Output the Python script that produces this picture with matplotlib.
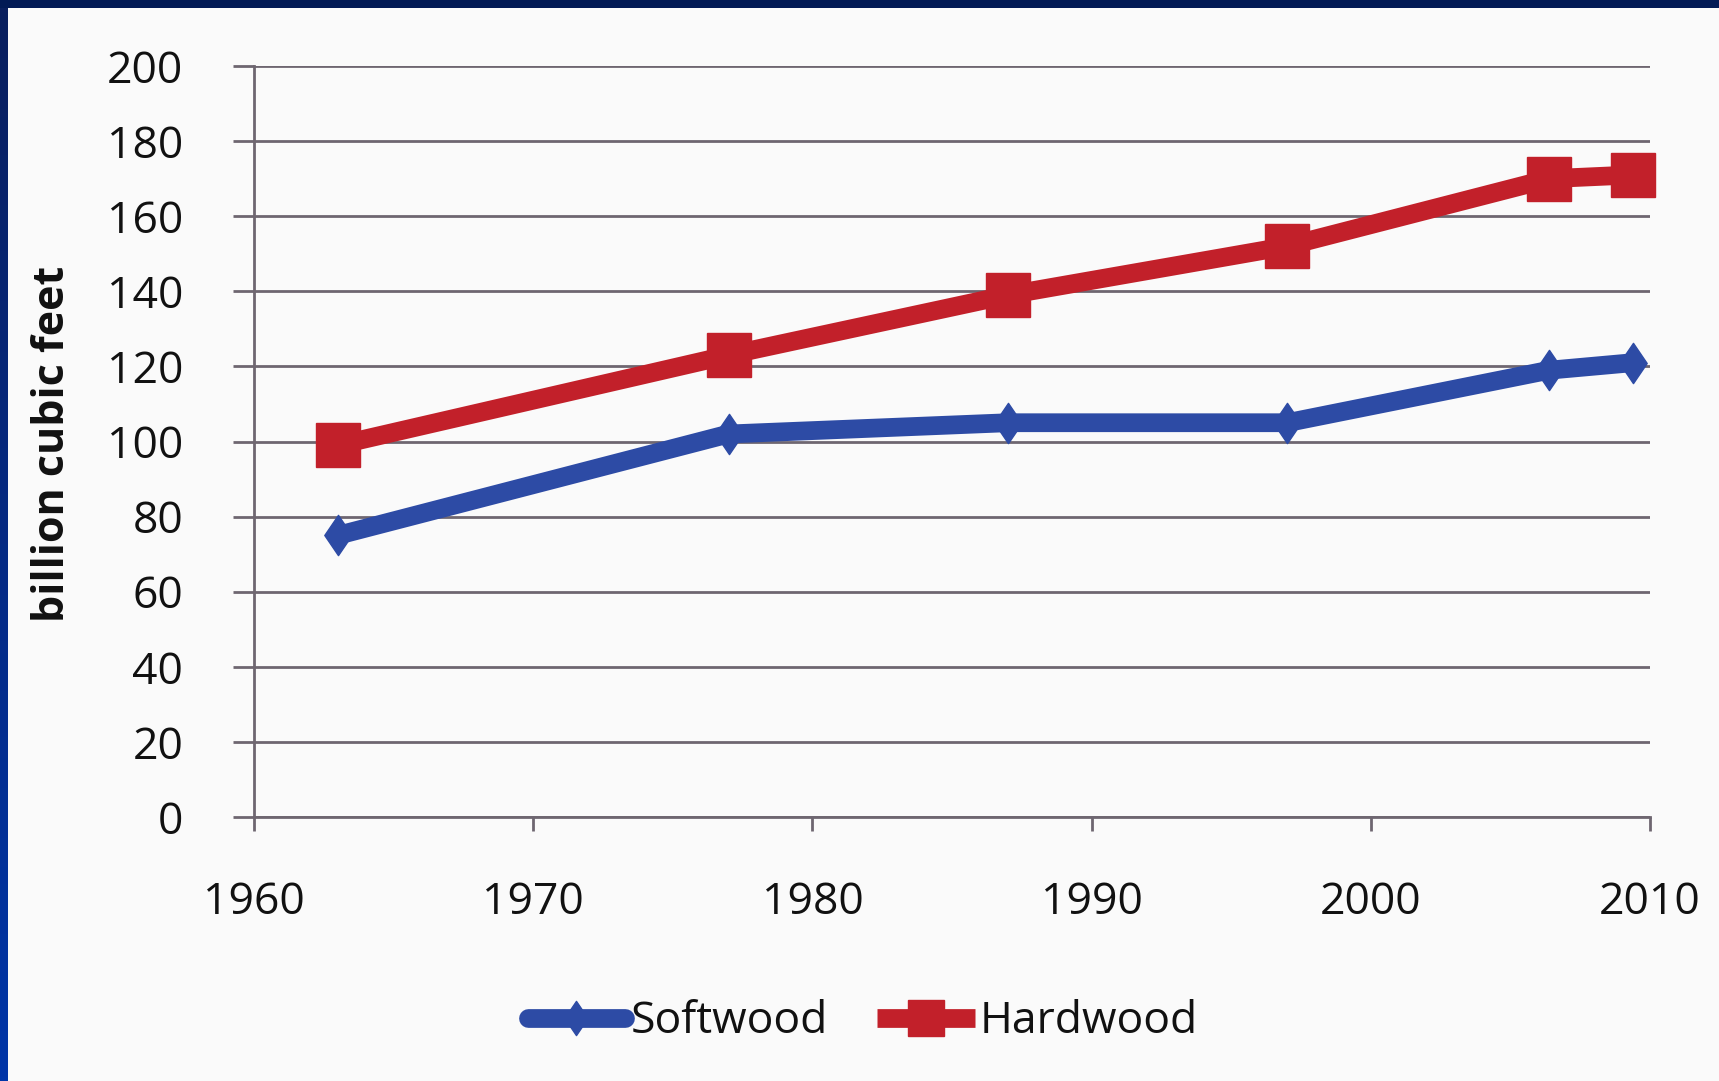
import numpy as np
import matplotlib
matplotlib.use("Agg")
from matplotlib import pyplot as plt
from matplotlib.path import Path

# values (billion cubic feet)
years = [1963, 1977, 1987, 1997, 2006.4, 2009.4]
softwood = [75, 102, 105, 105, 119, 121]
hardwood = [99, 123, 139, 152, 170, 171]

x_ticks = [1960, 1970, 1980, 1990, 2000, 2010]
y_ticks = [0, 20, 40, 60, 80, 100, 120, 140, 160, 180, 200]

blue = "#2d4ba5"
red = "#c2202a"
grid_col = "#6e6670"

plt.rcParams["font.family"] = ["Open Sans", "DejaVu Sans"]

W, H = 1719, 1081
fig = plt.figure(figsize=(W / 100, H / 100), dpi=100)
fig.patch.set_facecolor("#fafafa")

# photo frame: navy band on top, blue gradient on the left
band = fig.add_axes([0, 1 - 8 / H, 1, 8 / H])
band.set_axis_off()
band.imshow([[0, 0]], cmap=matplotlib.colors.ListedColormap(["#021a55"]), aspect="auto")
side = fig.add_axes([0, 0, 8 / W, 1 - 8 / H])
side.set_axis_off()
grad = np.linspace(0, 1, 256).reshape(-1, 1)
side_cmap = matplotlib.colors.LinearSegmentedColormap.from_list("side", ["#0a1f5e", "#0035a8"])
side.imshow(grad, cmap=side_cmap, aspect="auto")

ax = fig.add_axes([254 / W, 264 / H, (1650 - 254) / W, (1015 - 264) / H])
ax.set_facecolor("none")

diamond = Path([(0, 1), (0.68, 0), (0, -1), (-0.68, 0), (0, 1)],
               [Path.MOVETO, Path.LINETO, Path.LINETO, Path.LINETO, Path.CLOSEPOLY])

ax.plot(years, softwood, color=blue, lw=13.5, marker=diamond, ms=29,
        solid_capstyle="round", label="Softwood", zorder=3, clip_on=False)
ax.plot(years, hardwood, color=red, lw=13.5, marker="s", ms=31,
        solid_capstyle="butt", label="Hardwood", zorder=3, clip_on=False)

ax.set_xlim(1960, 2010)
ax.set_ylim(0, 200)
ax.set_xticks(x_ticks)
ax.set_yticks(y_ticks)

ax.grid(axis="y", color=grid_col, lw=2)
ax.set_axisbelow(True)
for s in ["top", "right"]:
    ax.spines[s].set_visible(False)
for s in ["left", "bottom"]:
    ax.spines[s].set_color(grid_col)
    ax.spines[s].set_linewidth(2)

ax.tick_params(axis="y", direction="out", length=15, width=2, color=grid_col,
               labelsize=32, pad=36, labelcolor="#111111")
ax.tick_params(axis="x", direction="out", length=10, width=2, color=grid_col,
               labelsize=32, pad=36, labelcolor="#111111")

fig.text(53 / W, 1 - 444 / H, "billion cubic feet", rotation=90, fontsize=31,
         fontweight="bold", ha="center", va="center", color="#111111")

leg = fig.legend(loc="center", bbox_to_anchor=(0.502, 1 - 1022 / H), ncol=2,
                 frameon=False, fontsize=32, handlelength=2.2, handletextpad=0.12,
                 columnspacing=1.1, markerscale=0.85)
for t in leg.get_texts():
    t.set_color("#111111")

fig.savefig("out.png", dpi=100, facecolor=fig.get_facecolor())
